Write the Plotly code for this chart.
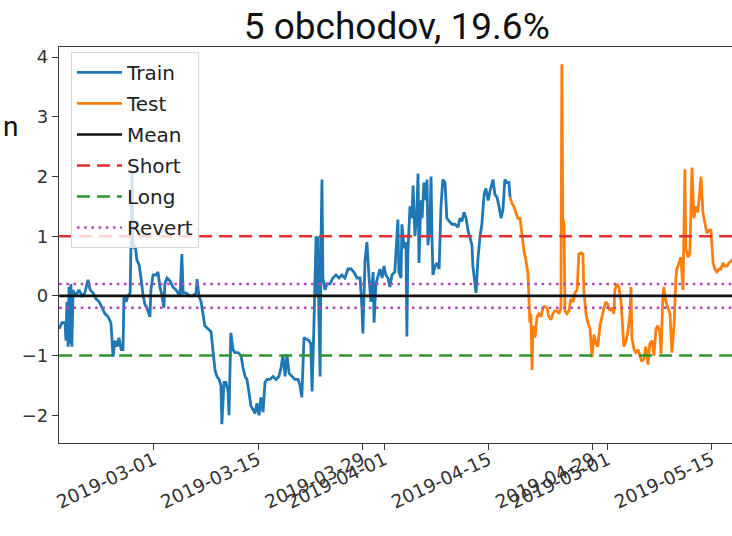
import plotly.graph_objects as go

title_text = "5 obchodov, 19.6%"

train_dates = [
    "2019-02-16 06:00", "2019-02-16 15:00", "2019-02-17 01:00", "2019-02-17 04:00", "2019-02-17 07:00",
    "2019-02-17 11:00", "2019-02-17 14:00", "2019-02-17 17:00", "2019-02-17 20:00", "2019-02-17 23:00",
    "2019-02-18 03:00", "2019-02-18 09:00", "2019-02-18 16:00", "2019-02-18 22:00", "2019-02-19 08:00",
    "2019-02-19 17:00", "2019-02-20 03:00", "2019-02-20 10:00", "2019-02-20 19:00", "2019-02-21 05:00",
    "2019-02-21 15:00", "2019-02-22 00:00", "2019-02-22 10:00", "2019-02-22 20:00", "2019-02-23 05:00",
    "2019-02-23 12:00", "2019-02-23 18:00", "2019-02-24 01:00", "2019-02-24 07:00", "2019-02-24 14:00",
    "2019-02-24 20:00", "2019-02-24 23:00", "2019-02-25 06:00", "2019-02-25 12:00", "2019-02-25 19:00",
    "2019-02-25 22:00", "2019-02-26 01:00", "2019-02-26 04:00", "2019-02-26 11:00", "2019-02-26 17:00",
    "2019-02-27 00:00", "2019-02-27 06:00", "2019-02-27 13:00", "2019-02-27 19:00", "2019-02-28 01:00",
    "2019-02-28 11:00", "2019-02-28 14:00", "2019-02-28 21:00", "2019-03-01 06:00", "2019-03-01 13:00",
    "2019-03-01 19:00", "2019-03-02 02:00", "2019-03-02 08:00", "2019-03-02 11:00", "2019-03-02 18:00",
    "2019-03-03 04:00", "2019-03-03 13:00", "2019-03-03 23:00", "2019-03-04 12:00", "2019-03-04 18:00",
    "2019-03-04 22:00", "2019-03-05 07:00", "2019-03-05 20:00", "2019-03-06 06:00", "2019-03-06 16:00",
    "2019-03-06 19:00", "2019-03-07 01:00", "2019-03-07 08:00", "2019-03-07 14:00", "2019-03-07 20:00",
    "2019-03-08 06:00", "2019-03-08 16:00", "2019-03-08 22:00", "2019-03-09 05:00", "2019-03-09 11:00",
    "2019-03-09 18:00", "2019-03-10 00:00", "2019-03-10 03:00", "2019-03-10 10:00", "2019-03-10 16:00",
    "2019-03-10 23:00", "2019-03-11 02:00", "2019-03-11 08:00", "2019-03-11 15:00", "2019-03-11 21:00",
    "2019-03-12 07:00", "2019-03-12 17:00", "2019-03-12 23:00", "2019-03-13 06:00", "2019-03-13 12:00",
    "2019-03-13 18:00", "2019-03-14 01:00", "2019-03-14 07:00", "2019-03-14 14:00", "2019-03-14 20:00",
    "2019-03-15 03:00", "2019-03-15 09:00", "2019-03-15 16:00", "2019-03-15 22:00", "2019-03-16 05:00",
    "2019-03-16 14:00", "2019-03-17 00:00", "2019-03-17 10:00", "2019-03-17 19:00", "2019-03-18 02:00",
    "2019-03-18 08:00", "2019-03-18 15:00", "2019-03-18 21:00", "2019-03-19 04:00", "2019-03-19 13:00",
    "2019-03-19 23:00", "2019-03-20 09:00", "2019-03-20 15:00", "2019-03-20 21:00", "2019-03-21 04:00",
    "2019-03-21 10:00", "2019-03-21 20:00", "2019-03-22 02:00", "2019-03-22 06:00", "2019-03-22 12:00",
    "2019-03-22 19:00", "2019-03-22 22:00", "2019-03-23 01:00", "2019-03-23 04:00", "2019-03-23 08:00",
    "2019-03-23 11:00", "2019-03-23 14:00", "2019-03-23 17:00", "2019-03-24 00:00", "2019-03-24 06:00",
    "2019-03-24 16:00", "2019-03-25 01:00", "2019-03-25 11:00", "2019-03-25 21:00", "2019-03-26 06:00",
    "2019-03-26 16:00", "2019-03-27 02:00", "2019-03-27 12:00", "2019-03-27 21:00", "2019-03-28 07:00",
    "2019-03-28 17:00", "2019-03-28 23:00", "2019-03-29 02:00", "2019-03-29 09:00", "2019-03-29 15:00",
    "2019-03-29 22:00", "2019-03-30 04:00", "2019-03-30 11:00", "2019-03-30 14:00", "2019-03-30 20:00",
    "2019-03-31 03:00", "2019-03-31 09:00", "2019-03-31 16:00", "2019-03-31 22:00", "2019-04-01 04:00",
    "2019-04-01 11:00", "2019-04-01 17:00", "2019-04-02 00:00", "2019-04-02 09:00", "2019-04-02 19:00",
    "2019-04-02 22:00", "2019-04-03 05:00", "2019-04-03 08:00", "2019-04-03 15:00", "2019-04-03 21:00",
    "2019-04-04 00:00", "2019-04-04 03:00", "2019-04-04 10:00", "2019-04-04 16:00", "2019-04-04 20:00",
    "2019-04-05 02:00", "2019-04-05 08:00", "2019-04-05 12:00", "2019-04-05 15:00", "2019-04-05 21:00",
    "2019-04-06 01:00", "2019-04-06 07:00", "2019-04-06 14:00", "2019-04-06 17:00", "2019-04-06 20:00",
    "2019-04-07 02:00", "2019-04-07 06:00", "2019-04-07 09:00", "2019-04-07 12:00", "2019-04-07 19:00",
    "2019-04-08 01:00", "2019-04-08 08:00", "2019-04-08 14:00", "2019-04-08 20:00", "2019-04-09 03:00",
    "2019-04-09 09:00", "2019-04-09 16:00", "2019-04-10 01:00", "2019-04-10 11:00", "2019-04-10 21:00",
    "2019-04-11 03:00", "2019-04-11 10:00", "2019-04-11 16:00", "2019-04-11 23:00", "2019-04-12 05:00",
    "2019-04-12 12:00", "2019-04-12 18:00", "2019-04-12 21:00", "2019-04-13 04:00", "2019-04-13 07:00",
    "2019-04-13 13:00", "2019-04-13 20:00", "2019-04-14 02:00", "2019-04-14 09:00", "2019-04-14 15:00",
    "2019-04-14 22:00", "2019-04-15 04:00", "2019-04-15 10:00", "2019-04-15 14:00", "2019-04-15 20:00",
    "2019-04-16 03:00", "2019-04-16 09:00", "2019-04-16 16:00", "2019-04-16 22:00", "2019-04-17 04:00",
    "2019-04-17 11:00", "2019-04-17 17:00", "2019-04-17 21:00",
]
train_values = [
    -0.55, -0.45, -0.45, -0.75, -0.1,
    -0.85, 0.15, -0.8, 0.2, -0.85,
    0.1, 0.0, 0.05, 0.1, 0.0,
    0.05, 0.27, 0.1, 0.05, -0.05,
    -0.1, -0.2, -0.3, -0.35, -0.45,
    -1.02, -0.75, -0.85, -0.7, -0.9,
    -0.9, 0.0, -0.1, 0.0, 0.05,
    0.95, 2.1, 0.8, 0.85, 0.6,
    0.52, 0.3, 0.0, -0.15, -0.2,
    -0.35, 0.1, 0.35, 0.35, 0.4,
    0.15, 0.0, -0.2, 0.2, 0.3,
    0.25, 0.15, 0.1, 0.0, 0.7,
    0.05, 0.05, 0.0, 0.0, 0.05,
    0.28, 0.0, -0.1, -0.35, -0.5,
    -0.55, -0.6, -0.9, -1.25, -1.35,
    -1.4, -1.5, -2.15, -1.45, -1.45,
    -1.6, -2.0, -0.62, -0.9, -0.95,
    -0.95, -1.0, -1.2, -1.35, -1.4,
    -1.6, -1.85, -1.9, -1.97, -1.8,
    -2.0, -1.7, -1.95, -1.45, -1.4,
    -1.4, -1.35, -1.4, -1.35, -1.2,
    -1.0, -1.35, -0.98, -1.3, -1.35,
    -1.4, -1.4, -1.5, -1.7, -0.7,
    -0.72, -0.75, -0.8, -1.6, -0.5,
    1.0, 0.0, 1.0, -0.3, -1.35,
    0.9, 1.95, 0.3, 0.1, 0.2,
    0.2, 0.3, 0.35, 0.3, 0.35,
    0.3, 0.45, 0.45, 0.4, 0.3,
    0.3, -0.2, -0.63, 0.6, 0.9,
    0.3, -0.1, 0.4, -0.45, 0.2,
    0.35, 0.45, 0.3, 0.5, 0.35,
    0.3, 0.15, 0.35, 0.4, 1.28,
    0.4, 0.3, 1.2, 0.8, 0.9,
    -0.68, 0.7, 1.5, 1.3, 1.85,
    1.0, 1.4, 2.05, 0.55, 1.6,
    1.3, 1.9, 1.6, 1.95, 0.85,
    1.2, 2.0, 1.0, 0.35, 0.5,
    0.55, 0.45, 1.5, 1.95, 1.9,
    1.3, 1.25, 1.2, 1.2, 1.15,
    1.3, 1.25, 1.4, 1.3, 1.1,
    0.95, 0.85, 0.5, 0.2, 0.05,
    0.6, 1.0, 1.2, 1.7, 1.8,
    1.6, 1.75, 1.85, 1.95, 1.7,
    1.65, 1.5, 1.3, 1.45, 1.95,
    1.9, 1.9, 1.65,
]

test_dates = [
    "2019-04-17 21:00", "2019-04-18 03:00", "2019-04-18 09:00", "2019-04-18 16:00", "2019-04-18 22:00",
    "2019-04-19 05:00", "2019-04-19 11:00", "2019-04-19 18:00", "2019-04-20 00:00", "2019-04-20 07:00",
    "2019-04-20 10:00", "2019-04-20 13:00", "2019-04-20 16:00", "2019-04-20 20:00", "2019-04-20 23:00",
    "2019-04-21 05:00", "2019-04-21 12:00", "2019-04-21 18:00", "2019-04-22 01:00", "2019-04-22 07:00",
    "2019-04-22 13:00", "2019-04-22 20:00", "2019-04-23 02:00", "2019-04-23 09:00", "2019-04-23 15:00",
    "2019-04-23 22:00", "2019-04-24 04:00", "2019-04-24 11:00", "2019-04-24 17:00", "2019-04-24 20:00",
    "2019-04-24 23:00", "2019-04-25 03:00", "2019-04-25 06:00", "2019-04-25 12:00", "2019-04-25 19:00",
    "2019-04-26 01:00", "2019-04-26 08:00", "2019-04-26 14:00", "2019-04-26 21:00", "2019-04-27 03:00",
    "2019-04-27 10:00", "2019-04-27 16:00", "2019-04-27 19:00", "2019-04-28 02:00", "2019-04-28 08:00",
    "2019-04-28 15:00", "2019-04-28 21:00", "2019-04-29 04:00", "2019-04-29 10:00", "2019-04-29 16:00",
    "2019-04-29 23:00", "2019-04-30 05:00", "2019-04-30 12:00", "2019-04-30 18:00", "2019-05-01 01:00",
    "2019-05-01 07:00", "2019-05-01 14:00", "2019-05-01 20:00", "2019-05-01 23:00", "2019-05-02 06:00",
    "2019-05-02 12:00", "2019-05-02 19:00", "2019-05-02 22:00", "2019-05-03 04:00", "2019-05-03 11:00",
    "2019-05-03 17:00", "2019-05-04 00:00", "2019-05-04 03:00", "2019-05-04 06:00", "2019-05-04 13:00",
    "2019-05-04 19:00", "2019-05-05 02:00", "2019-05-05 08:00", "2019-05-05 14:00", "2019-05-05 21:00",
    "2019-05-06 03:00", "2019-05-06 10:00", "2019-05-06 16:00", "2019-05-06 23:00", "2019-05-07 05:00",
    "2019-05-07 12:00", "2019-05-07 18:00", "2019-05-08 00:00", "2019-05-08 04:00", "2019-05-08 10:00",
    "2019-05-08 13:00", "2019-05-08 20:00", "2019-05-09 02:00", "2019-05-09 09:00", "2019-05-09 15:00",
    "2019-05-09 22:00", "2019-05-10 04:00", "2019-05-10 07:00", "2019-05-10 14:00", "2019-05-10 20:00",
    "2019-05-11 03:00", "2019-05-11 09:00", "2019-05-11 12:00", "2019-05-11 19:00", "2019-05-12 01:00",
    "2019-05-12 08:00", "2019-05-12 14:00", "2019-05-12 21:00", "2019-05-13 03:00", "2019-05-13 13:00",
    "2019-05-13 19:00", "2019-05-14 02:00", "2019-05-14 08:00", "2019-05-14 15:00", "2019-05-14 21:00",
    "2019-05-15 04:00", "2019-05-15 10:00", "2019-05-15 16:00", "2019-05-15 23:00", "2019-05-16 05:00",
    "2019-05-16 12:00", "2019-05-16 18:00", "2019-05-17 01:00", "2019-05-17 07:00", "2019-05-17 17:00",
    "2019-05-18 02:00",
]
test_values = [
    1.65, 1.55, 1.5, 1.4, 1.3,
    1.3, 1.0, 0.75, 0.6, 0.35,
    -0.1, -0.45, -0.3, -1.24, -0.5,
    -0.7, -0.35, -0.3, -0.35, -0.2,
    -0.18, -0.2, -0.35, -0.4, -0.3,
    -0.25, -0.25, -0.3, -0.2, 3.88,
    1.3, 1.2, -0.25, -0.3, -0.25,
    -0.05, -0.1, 0.05, 0.1, 0.7,
    0.72, 0.7, 0.1, -0.3, -0.45,
    -0.55, -1.03, -0.65, -0.8, -0.85,
    -0.5, -0.35, -0.2, -0.1, -0.15,
    -0.25, -0.2, -0.3, 0.1, 0.2,
    0.15, -0.1, -0.4, -0.85, -0.75,
    -0.6, -0.3, 0.15, -0.7, -0.9,
    -0.95, -0.9, -1.0, -1.1, -1.05,
    -0.85, -1.15, -0.8, -0.75, -1.0,
    -0.55, -0.5, -0.6, -0.97, 0.0,
    0.15, -0.1, -0.2, -0.3, -0.95,
    -0.5, 0.3, 0.45, 0.55, 0.65,
    0.1, 2.12, 0.8, 0.65, 0.7,
    2.15, 1.3, 1.5, 1.4, 2.0,
    1.4, 1.2, 1.05, 1.1, 1.1,
    0.55, 0.45, 0.4, 0.45, 0.45,
    0.55, 0.5, 0.5, 0.55, 0.6,
    0.6,
]

mean_level = 0.0
short_level = 1.0
long_level = -1.0
revert_levels = [0.2, -0.2]

tick_dates = ["2019-03-01", "2019-03-15", "2019-03-29", "2019-04-01",
              "2019-04-15", "2019-04-29", "2019-05-01", "2019-05-15"]
y_ticks = [-2, -1, 0, 1, 2, 3, 4]
y_tick_labels = ["\u22122", "\u22121", "0", "1", "2", "3", "4"]

x_start = train_dates[0]
x_end = test_dates[-1]

fig = go.Figure()
fig.add_trace(go.Scatter(x=train_dates, y=train_values, mode="lines", name="Train",
                         line=dict(color="#1f77b4", width=2.8), legendgroup="a"))
fig.add_trace(go.Scatter(x=test_dates, y=test_values, mode="lines", name="Test",
                         line=dict(color="#ff7f0e", width=2.8), legendgroup="b"))
fig.add_trace(go.Scatter(x=[x_start, x_end], y=[mean_level, mean_level], mode="lines", name="Mean",
                         line=dict(color="#111111", width=2.6), legendgroup="c"))
fig.add_trace(go.Scatter(x=[x_start, x_end], y=[short_level, short_level], mode="lines", name="Short",
                         line=dict(color="#e0302f", width=2.6, dash="13px,7px"), legendgroup="d"))
fig.add_trace(go.Scatter(x=[x_start, x_end], y=[long_level, long_level], mode="lines", name="Long",
                         line=dict(color="#2e962e", width=2.6, dash="13px,7px"), legendgroup="e"))
for i, lv in enumerate(revert_levels):
    fig.add_trace(go.Scatter(x=[x_start, x_end], y=[lv, lv], mode="lines", name="Revert",
                             line=dict(color="#b04ab8", width=2.6, dash="2.6px,4.6px"),
                             legendgroup="f", showlegend=(i == 0)))

axis_common = dict(showline=True, linecolor="#3a3a3a", linewidth=1.3, mirror=True,
                   ticks="outside", ticklen=6, tickwidth=1.2, tickcolor="#3a3a3a",
                   showgrid=False, zeroline=False, automargin=False)

fig.update_layout(
    width=732, height=536,
    margin=dict(l=59, r=0, t=47, b=93),
    paper_bgcolor="white", plot_bgcolor="white",
    title=dict(text=title_text, xref="container", x=0.542, xanchor="center",
               yref="container", y=0.952, yanchor="middle",
               font=dict(family="Roboto", size=37, color="#111111")),
    xaxis=dict(type="date", range=["2019-02-16 05:30", "2019-05-17 17:00"],
               tickvals=tick_dates, ticktext=tick_dates, tickangle=-25,
               ticklabelstandoff=-8,
               tickfont=dict(family="DejaVu Sans", size=18.5, color="#333333"),
               **axis_common),
    yaxis=dict(range=[-2.465, 4.17], tickvals=y_ticks, ticktext=y_tick_labels,
               tickfont=dict(family="DejaVu Sans", size=18, color="#333333"),
               **axis_common),
    legend=dict(x=0.0178, y=0.9875, xanchor="left", yanchor="top",
                bgcolor="rgba(255,255,255,0.8)", bordercolor="#d8d8d8", borderwidth=1,
                font=dict(family="DejaVu Sans", size=20, color="#222222"),
                tracegroupgap=2, itemwidth=45),
    showlegend=True,
)

fig.add_annotation(text="n", xref="paper", yref="paper", x=-0.0862, y=0.8005,
                   xanchor="left", yanchor="middle", showarrow=False,
                   font=dict(family="Roboto", size=28, color="#111111"))

fig.write_html("out.html", config={"displayModeBar": False},
               post_script="document.body.style.margin='0';document.body.style.overflow='hidden';")
